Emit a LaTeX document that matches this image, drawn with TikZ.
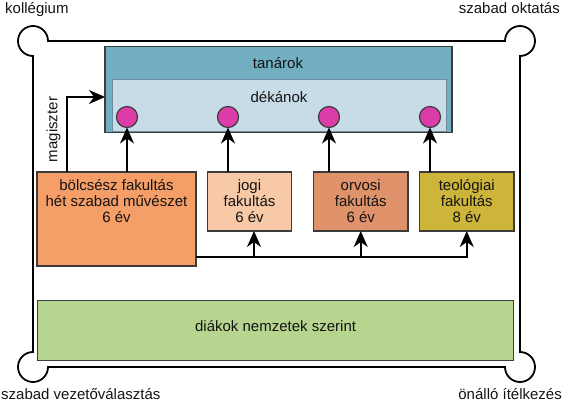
\documentclass[tikz,border=0pt]{standalone}
\usepackage{fontspec}
\setmainfont{Liberation Sans}
\usetikzlibrary{arrows.meta}
\definecolor{tancol}{RGB}{114,174,194}
\definecolor{dekcol}{RGB}{200,220,232}
\definecolor{dekline}{RGB}{110,140,160}
\definecolor{dotcol}{RGB}{220,60,168}
\definecolor{boelcol}{RGB}{245,158,104}
\definecolor{jogicol}{RGB}{248,201,166}
\definecolor{orvcol}{RGB}{224,146,106}
\definecolor{teolcol}{RGB}{205,181,58}
\definecolor{diakcol}{RGB}{183,213,142}
\definecolor{boxline}{RGB}{60,60,60}
\definecolor{txtcol}{RGB}{20,20,20}
\begin{document}
\begin{tikzpicture}[x=1pt,y=1pt,
  box/.style={draw=boxline, line width=1.2pt, inner sep=0pt, outer sep=0pt},
  dot/.style={circle, draw=boxline, line width=1.2pt, fill=dotcol, minimum size=21pt, inner sep=0pt, outer sep=0pt},
  txt/.style={font=\fontsize{15}{16}\selectfont, align=center, inner sep=0pt, text=txtcol},
  conn/.style={line width=1.6pt, black},
  arr/.style={conn, -{Stealth[length=16pt,width=14pt,inset=5pt]}},
  frameline/.style={line width=1.8pt, black}]
\useasboundingbox (0,0) rectangle (563,-404);

% outer frame with looped corners
\draw[frameline] (48,-41) -- (505,-41)
  arc[start angle=180, end angle=-90, radius=15]
  -- (520,-352)
  arc[start angle=90, end angle=-180, radius=15]
  -- (48,-367)
  arc[start angle=0, end angle=-270, radius=15]
  -- (33,-56)
  arc[start angle=-90, end angle=-360, radius=15] -- cycle;

% corner labels
\node[txt, anchor=base west] (kol) at (5,-13.5) {kollégium};
\node[txt, anchor=base east] (szo) at (560,-14) {szabad oktatás};
\node[txt, anchor=base west] (szv) at (1,-399) {szabad vezetőválasztás};
\node[txt, anchor=base east] (ona) at (562,-399) {önálló ítélkezés};

% teachers / deans
\node[box, fill=tancol, minimum width=347pt, minimum height=86pt] (tan) at (278.5,-89.7) {};
\node[box, draw=dekline, line width=0.8pt, fill=dekcol, minimum width=334pt, minimum height=52pt] (dek) at (279,-105) {};
\node[txt] (tantext) at (278,-63) {tanárok};
\node[txt] (dektext) at (279,-97) {dékánok};

\node[dot] (c1) at (127,-117) {};
\node[dot] (c2) at (228,-117) {};
\node[dot] (c3) at (329,-117) {};
\node[dot] (c4) at (430,-117) {};

% faculties
\node[box, fill=boelcol, minimum width=159pt, minimum height=94pt] (boel) at (116.5,-219) {};
\node[box, fill=jogicol, minimum width=84pt, minimum height=59pt] (jogi) at (249.5,-201.5) {};
\node[box, fill=orvcol, minimum width=94.5pt, minimum height=59pt] (orv) at (360.75,-201.5) {};
\node[box, fill=teolcol, minimum width=94.5pt, minimum height=59pt] (teol) at (466.75,-201.5) {};
\node[txt] (boeltext) at (116.5,-201) {bölcsész fakultás\\hét szabad művészet\\6 év};
\node[txt] (jogitext) at (249.5,-201) {jogi\\fakultás\\6 év};
\node[txt] (orvtext) at (360.75,-201) {orvosi\\fakultás\\6 év};
\node[txt] (teoltext) at (466.75,-201) {teológiai\\fakultás\\8 év};

% students
\node[box, fill=diakcol, minimum width=476pt, minimum height=60pt] (diak) at (275.6,-330.7) {};
\node[txt] (diaktext) at (275.6,-326.5) {diákok nemzetek szerint};

% magiszter
\node[txt, rotate=90] (mag) at (53.5,-129.5) {magiszter};
\coordinate (mgt) at (67,-97);
\draw[arr] (boel.north -| mgt) -- (mgt) -- (mgt -| tan.west);

% faculty -> deans
\draw[arr] (c1 |- boel.north) -- (c1.south);
\draw[arr] (c2 |- jogi.north) -- (c2.south);
\draw[arr] (c3 |- orv.north) -- (c3.south);
\draw[arr] (c4 |- teol.north) -- (c4.south);

% bus from bolcsesz to other faculties
\coordinate (bus) at ([yshift=-37.7pt]boel.east);
\coordinate (jx) at (254,-256.7);
\draw[arr] (bus) -| (teol.south);
\draw[arr] (jx) -- (jx |- jogi.south);
\draw[arr] (bus -| orv.south) -- (orv.south);
\end{tikzpicture}
\end{document}
